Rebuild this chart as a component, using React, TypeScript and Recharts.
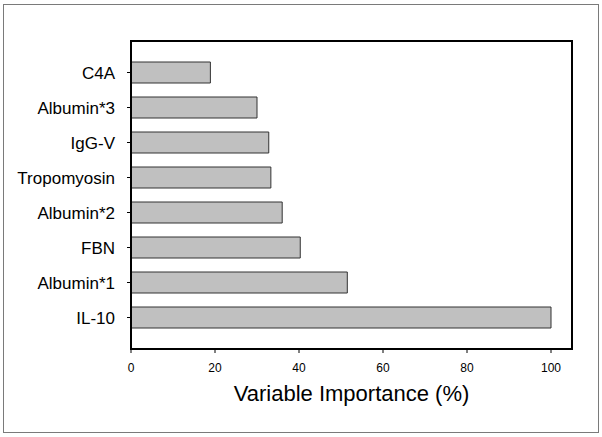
import React from 'react';
import { BarChart, Bar, XAxis, YAxis } from 'recharts';

const names = ['C4A', 'Albumin*3', 'IgG-V', 'Tropomyosin', 'Albumin*2', 'FBN', 'Albumin*1', 'IL-10'];
const importance = [18.9, 30.0, 32.8, 33.3, 36.0, 40.3, 51.5, 100];
const xTicks = [0, 20, 40, 60, 80, 100];

const data = names.map((name, i) => ({ name, value: importance[i] }));

const font = '"Liberation Sans", Arial, sans-serif';

export default function App() {
  return (
    <div style={{ position: 'absolute', left: 0, top: 0, width: 602, height: 437, background: '#fff', fontFamily: font }}>
      {/* outer gray box */}
      <div
        style={{
          position: 'absolute',
          left: 3,
          top: 4,
          width: 594,
          height: 427,
          border: '1px solid #7a7a7a',
        }}
      />
      <div style={{ position: 'absolute', left: 0, top: 0 }}>
        <BarChart
          width={602}
          height={437}
          data={data}
          layout="vertical"
          margin={{ top: 41, right: 30, bottom: 0, left: 0 }}
        >
          <XAxis
            type="number"
            domain={[0, 105]}
            ticks={xTicks}
            height={88}
            axisLine={{ stroke: '#000', strokeWidth: 2 }}
            tickLine={{ stroke: '#000' }}
            tickSize={4}
            tickMargin={10}
            tick={{ fill: '#000', fontSize: 12, fontFamily: font }}
            label={{
              value: 'Variable Importance (%)',
              position: 'insideBottom',
              offset: 36,
              fill: '#000',
              fontSize: 22,
              fontFamily: font,
            }}
          />
          <YAxis
            type="category"
            dataKey="name"
            width={131}
            padding={{ top: 14, bottom: 14 }}
            axisLine={{ stroke: '#000', strokeWidth: 2 }}
            tickLine={{ stroke: '#000' }}
            tickSize={4}
            tickMargin={12}
            tick={{ fill: '#000', fontSize: 17, fontFamily: font }}
            interval={0}
          />
          <Bar
            dataKey="value"
            fill="#c0c0c0"
            stroke="#333"
            strokeWidth={1}
            barSize={21}
            isAnimationActive={false}
          />
        </BarChart>
      </div>
      {/* plot frame */}
      <div
        style={{
          position: 'absolute',
          left: 130,
          top: 40,
          width: 439,
          height: 306,
          border: '2px solid #000',
          pointerEvents: 'none',
        }}
      />
    </div>
  );
}
